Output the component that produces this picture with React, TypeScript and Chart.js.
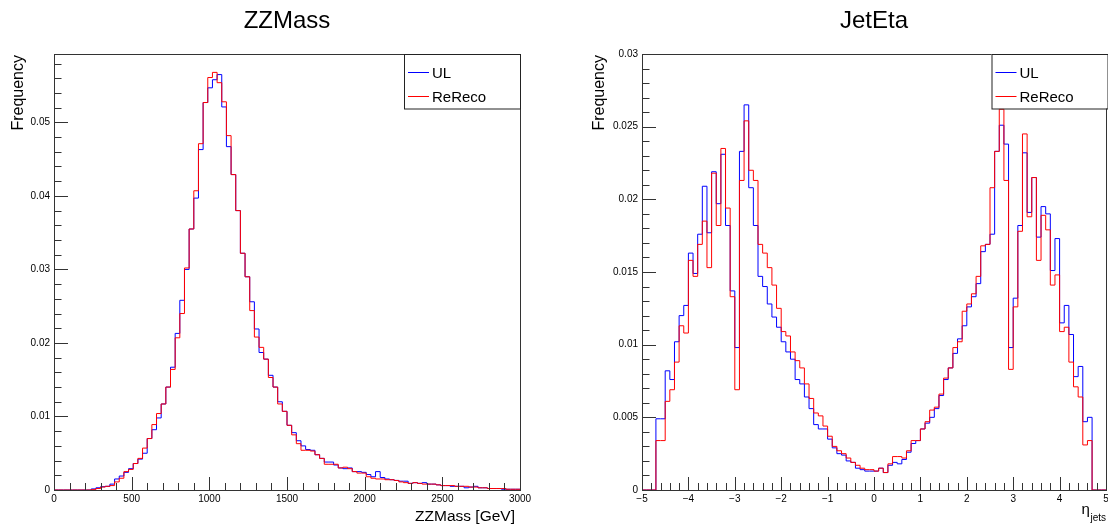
import React, { useEffect, useRef } from "react";
import { Chart, registerables } from "chart.js";

Chart.register(...registerables);

const FONT = "'Liberation Sans', Arial, Helvetica, sans-serif";

// ---------- ZZMass: 100 bins over [0, 3000] GeV ----------
const zzMassRange = [0, 3000];
const zzMassXTicks = [0, 500, 1000, 1500, 2000, 2500, 3000];
const zzMassYTicks = [0, 0.01, 0.02, 0.03, 0.04, 0.05];
const zzMassUL = [
  0, 0, 0, 0, 0, 0, 0, 0, 0.00015, 0.0003,
  0.00045, 0.0005, 0.0008, 0.0015, 0.0019, 0.0024, 0.0029, 0.0036, 0.0042, 0.005,
  0.007, 0.0082, 0.0098, 0.0117, 0.014, 0.0167, 0.0213, 0.0258, 0.03, 0.0355,
  0.0397, 0.0463, 0.0527, 0.0547, 0.0558, 0.0565, 0.0521, 0.0467, 0.0429, 0.038,
  0.0322, 0.029, 0.0256, 0.0219, 0.0187, 0.0178, 0.0156, 0.014, 0.012, 0.0107,
  0.0088, 0.0078, 0.0067, 0.006, 0.0055, 0.0054, 0.0048, 0.0043, 0.0038, 0.0038,
  0.0034, 0.003, 0.0029, 0.003, 0.0025, 0.0025, 0.0024, 0.0021, 0.0018, 0.0025,
  0.0017, 0.0015, 0.0014, 0.0013, 0.0012, 0.0012, 0.0009, 0.001, 0.0009, 0.001,
  0.0008, 0.0008, 0.0007, 0.0006, 0.0006, 0.0005, 0.0005, 0.0005, 0.0003, 0.0004,
  0.0005, 0.0003, 0.0003, 0.0002, 0.0002, 0.0002, 0.0001, 0.0001, 0.0001, 0.0001,
];
const zzMassReReco = [
  0, 0, 0, 0, 0, 0, 0, 0, 0.00005, 0.0002,
  0.0004, 0.0005, 0.0006, 0.0011, 0.0016, 0.0025, 0.0028, 0.0036, 0.0043, 0.0057,
  0.007, 0.0089, 0.0104, 0.0117, 0.014, 0.0164, 0.0207, 0.024, 0.0302, 0.0355,
  0.0407, 0.0471, 0.0527, 0.0561, 0.0568, 0.0554, 0.0528, 0.0482, 0.0429, 0.038,
  0.0322, 0.029, 0.0244, 0.0208, 0.0194, 0.0178, 0.0153, 0.014, 0.0117, 0.0107,
  0.0088, 0.0075, 0.0063, 0.0054, 0.0054, 0.0053, 0.0048, 0.0043, 0.0035, 0.0035,
  0.0035, 0.003, 0.0031, 0.0029, 0.0025, 0.0023, 0.0023, 0.0018, 0.0016, 0.0015,
  0.0015, 0.0014, 0.0014, 0.0013, 0.0011, 0.001, 0.0009, 0.001, 0.0009, 0.0008,
  0.0008, 0.0008, 0.0007, 0.0006, 0.0006, 0.0006, 0.0005, 0.0005, 0.0005, 0.0004,
  0.0004, 0.0003, 0.0003, 0.0002, 0.0002, 0.0002, 0.0002, 0.0001, 0.0001, 0.0001,
];

// ---------- JetEta: 100 bins over [-5, 5] ----------
const jetEtaRange = [-5, 5];
const jetEtaXTicks = [-5, -4, -3, -2, -1, 0, 1, 2, 3, 4, 5];
const jetEtaYTicks = [0, 0.005, 0.01, 0.015, 0.02, 0.025, 0.03];
const jetEtaUL = [
  0, 0, 0, 0.0049, 0.0049, 0.0082, 0.0076, 0.0102, 0.012, 0.0127,
  0.0163, 0.0149, 0.0176, 0.0209, 0.0177, 0.0219, 0.0197, 0.0231, 0.0182, 0.0137,
  0.0098, 0.0233, 0.0265, 0.0208, 0.0182, 0.0147, 0.014, 0.0128, 0.0119, 0.0112,
  0.0102, 0.0095, 0.009, 0.0076, 0.0073, 0.0064, 0.0056, 0.0045, 0.0042, 0.0042,
  0.0035, 0.0029, 0.0025, 0.0024, 0.002, 0.0019, 0.0015, 0.0014, 0.0013, 0.0013,
  0.0013, 0.0015, 0.0012, 0.0017, 0.0019, 0.0018, 0.0021, 0.0026, 0.0032, 0.0034,
  0.0042, 0.0046, 0.005, 0.0056, 0.0065, 0.0076, 0.0084, 0.0094, 0.0104, 0.0113,
  0.0126, 0.0133, 0.0142, 0.0164, 0.0169, 0.0176, 0.0233, 0.0251, 0.0238, 0.0098,
  0.0132, 0.0182, 0.0232, 0.0191, 0.0215, 0.0174, 0.0195, 0.019, 0.0151, 0.0173,
  0.0115, 0.0127, 0.0107, 0.0078, 0.0085, 0.0047, 0.005, 0, 0, 0,
];
const jetEtaReReco = [
  0, 0, 0, 0.0034, 0.0034, 0.0061, 0.0069, 0.0088, 0.0113, 0.0108,
  0.0158, 0.0147, 0.0169, 0.0185, 0.0153, 0.0218, 0.0182, 0.0235, 0.0194, 0.0133,
  0.0069, 0.0213, 0.0254, 0.022, 0.0213, 0.0169, 0.0163, 0.0153, 0.0141, 0.0125,
  0.0109, 0.0106, 0.0095, 0.0089, 0.0084, 0.0073, 0.0063, 0.0053, 0.0051, 0.0044,
  0.0037, 0.003, 0.0027, 0.0025, 0.0022, 0.0019, 0.0017, 0.0015, 0.0014, 0.0014,
  0.0013, 0.0015, 0.0012, 0.0018, 0.0023, 0.0023, 0.0022, 0.0027, 0.0034, 0.0034,
  0.0042, 0.0047, 0.0055, 0.0057, 0.0066, 0.0077, 0.0084, 0.0098, 0.0102, 0.0123,
  0.0128, 0.0135, 0.0147, 0.0168, 0.0169, 0.0208, 0.0233, 0.0262, 0.0213, 0.0083,
  0.0126, 0.0178, 0.0245, 0.0188, 0.0215, 0.0158, 0.0189, 0.0179, 0.0141, 0.0148,
  0.0109, 0.0112, 0.0088, 0.0071, 0.0064, 0.0031, 0.0034, 0, 0, 0,
];

const seriesLabels = ["UL", "ReReco"];
const seriesColors = ["#0000ff", "#ff0000"];

function histPoints(range: number[], values: number[]) {
  const w = (range[1] - range[0]) / values.length;
  const pts = values.map((v, i) => ({ x: range[0] + i * w, y: v }));
  pts.push({ x: range[1], y: values[values.length - 1] });
  return pts;
}

const fmtY = (v: number) => (v === 0 ? "0" : String(parseFloat(Number(v).toFixed(4))));
const fmtX = (v: number) => (v < 0 ? "\u2212" + Math.abs(v) : String(v));

const rootStylePlugin = {
  id: "rootStyle",
  afterDraw(chart: any, _args: any, o: any) {
    const { ctx, chartArea: a } = chart;
    const xs = chart.scales.x;
    const ys = chart.scales.y;
    ctx.save();
    // ticks
    ctx.strokeStyle = "#333";
    ctx.lineWidth = 1;
    ctx.beginPath();
    const nY = Math.floor((ys.max - ys.min) / o.yMinor + 1e-6);
    for (let k = 0; k <= nY; k++) {
      const v = ys.min + k * o.yMinor;
      const py = Math.round(ys.getPixelForValue(v)) + 0.5;
      const len = k % 5 === 0 ? 14 : 7.5;
      ctx.moveTo(a.left, py);
      ctx.lineTo(a.left + len, py);
    }
    const nX = Math.floor((xs.max - xs.min) / o.xMinor + 1e-6);
    for (let k = 0; k <= nX; k++) {
      const v = xs.min + k * o.xMinor;
      const px = Math.round(xs.getPixelForValue(v)) + 0.5;
      const len = k % 5 === 0 ? 13 : 7;
      ctx.moveTo(px, a.bottom);
      ctx.lineTo(px, a.bottom - len);
    }
    ctx.stroke();
    // frame
    ctx.strokeRect(a.left + 0.5, a.top + 0.5, a.right - a.left, a.bottom - a.top);

    // title
    ctx.fillStyle = "#000";
    ctx.textBaseline = "alphabetic";
    ctx.textAlign = "center";
    ctx.font = `24px ${FONT}`;
    ctx.fillText(o.title, (a.left + a.right) / 2, 28);

    // y title
    ctx.save();
    ctx.translate(o.yTitleX, a.top + 1);
    ctx.rotate(-Math.PI / 2);
    ctx.textAlign = "right";
    ctx.font = `16px ${FONT}`;
    ctx.fillText(o.yTitle, 0, 0);
    ctx.restore();

    // x title
    ctx.textAlign = "right";
    if (o.xSub) {
      ctx.font = `10px ${FONT}`;
      const subW = ctx.measureText(o.xSub).width;
      ctx.fillText(o.xSub, a.right, 521);
      ctx.font = `15px ${FONT}`;
      ctx.fillText(o.xTitle, a.right - subW - 0.5, 514);
    } else {
      ctx.font = `15.5px ${FONT}`;
      ctx.fillText(o.xTitle, a.right - 5, 521);
    }

    // legend
    const L = o.legend;
    ctx.fillStyle = "#fff";
    ctx.fillRect(L.x1, L.y1, L.x2 - L.x1, L.y2 - L.y1);
    ctx.strokeStyle = "#222";
    ctx.strokeRect(L.x1 + 0.5, L.y1 + 0.5, L.x2 - L.x1, L.y2 - L.y1);
    ctx.font = `15px ${FONT}`;
    ctx.textAlign = "left";
    seriesLabels.forEach((lab, i) => {
      const ly = L.rows[i];
      ctx.strokeStyle = seriesColors[i];
      ctx.beginPath();
      ctx.moveTo(L.x1 + 4, ly + 0.5);
      ctx.lineTo(L.x1 + 25, ly + 0.5);
      ctx.stroke();
      ctx.fillStyle = "#000";
      ctx.fillText(lab, L.x1 + 28, ly + 5.5);
    });
    ctx.restore();
  },
};

type Spec = {
  range: number[];
  xTicks: number[];
  yTicks: number[];
  yMax: number;
  ul: number[];
  rr: number[];
  yAxisWidth: number;
  rightPad: number;
  xMinor: number;
  yMinor: number;
  title: string;
  yTitle: string;
  yTitleX: number;
  xTitle: string;
  xSub?: string;
  legend: { x1: number; y1: number; x2: number; y2: number; rows: number[] };
};

function buildConfig(spec: Spec): any {
  const tickFont = { family: FONT, size: 10 };
  return {
    type: "line",
    data: {
      datasets: [
        {
          label: seriesLabels[0],
          data: histPoints(spec.range, spec.ul),
          borderColor: seriesColors[0],
          borderWidth: 1,
          pointRadius: 0,
          stepped: "before",
          fill: false,
          order: 1,
        },
        {
          label: seriesLabels[1],
          data: histPoints(spec.range, spec.rr),
          borderColor: seriesColors[1],
          borderWidth: 1,
          pointRadius: 0,
          stepped: "before",
          fill: false,
          order: 0,
        },
      ],
    },
    options: {
      animation: false,
      responsive: false,
      events: [],
      layout: { padding: { left: 0, right: spec.rightPad, top: 54, bottom: 0 } },
      plugins: {
        legend: { display: false },
        title: { display: false },
        tooltip: { enabled: false },
        rootStyle: {
          xMinor: spec.xMinor,
          yMinor: spec.yMinor,
          title: spec.title,
          yTitle: spec.yTitle,
          yTitleX: spec.yTitleX,
          xTitle: spec.xTitle,
          xSub: spec.xSub,
          legend: spec.legend,
        },
      },
      scales: {
        x: {
          type: "linear",
          min: spec.range[0],
          max: spec.range[1],
          grid: { display: false, drawTicks: false },
          border: { display: false },
          afterBuildTicks: (s: any) => {
            s.ticks = spec.xTicks.map((v) => ({ value: v }));
          },
          afterFit: (s: any) => {
            s.height = 35;
            s.paddingLeft = 0;
            s.paddingRight = 0;
          },
          ticks: {
            font: tickFont,
            color: "#000",
            padding: 3,
            maxRotation: 0,
            autoSkip: false,
            callback: (v: number) => fmtX(v),
          },
        },
        y: {
          type: "linear",
          min: 0,
          max: spec.yMax,
          grid: { display: false, drawTicks: false },
          border: { display: false },
          afterBuildTicks: (s: any) => {
            s.ticks = spec.yTicks.map((v) => ({ value: v }));
          },
          afterFit: (s: any) => {
            s.width = spec.yAxisWidth;
            s.paddingTop = 0;
            s.paddingBottom = 0;
          },
          ticks: {
            font: tickFont,
            color: "#000",
            padding: 4,
            autoSkip: false,
            callback: (v: number) => fmtY(v),
          },
        },
      },
    },
    plugins: [rootStylePlugin],
  };
}

const zzMassSpec: Spec = {
  range: zzMassRange,
  xTicks: zzMassXTicks,
  yTicks: zzMassYTicks,
  yMax: 0.0593,
  ul: zzMassUL,
  rr: zzMassReReco,
  yAxisWidth: 54,
  rightPad: 34,
  xMinor: 100,
  yMinor: 0.002,
  title: "ZZMass",
  yTitle: "Frequency",
  yTitleX: 23,
  xTitle: "ZZMass [GeV]",
  legend: { x1: 404, y1: 54, x2: 520, y2: 108.5, rows: [72, 96] },
};

const jetEtaSpec: Spec = {
  range: jetEtaRange,
  xTicks: jetEtaXTicks,
  yTicks: jetEtaYTicks,
  yMax: 0.03,
  ul: jetEtaUL,
  rr: jetEtaReReco,
  yAxisWidth: 88,
  rightPad: 2,
  xMinor: 0.2,
  yMinor: 0.001,
  title: "JetEta",
  yTitle: "Frequency",
  yTitleX: 50,
  xTitle: "\u03b7",
  xSub: "jets",
  legend: { x1: 437.5, y1: 54, x2: 553.5, y2: 108.5, rows: [72, 96] },
};

function HistPanel({ left, spec }: { left: number; spec: Spec }) {
  const ref = useRef<HTMLCanvasElement>(null);
  useEffect(() => {
    const chart = new Chart(ref.current as HTMLCanvasElement, buildConfig(spec));
    return () => chart.destroy();
  }, [spec]);
  return (
    <canvas
      ref={ref}
      width={554}
      height={525}
      style={{ position: "absolute", left, top: 0, width: 554, height: 525 }}
    />
  );
}

export default function App() {
  return (
    <div
      style={{
        position: "absolute",
        left: 0,
        top: 0,
        width: 1108,
        height: 525,
        overflow: "hidden",
        background: "#fff",
      }}
    >
      <HistPanel left={0} spec={zzMassSpec} />
      <HistPanel left={554} spec={jetEtaSpec} />
    </div>
  );
}
